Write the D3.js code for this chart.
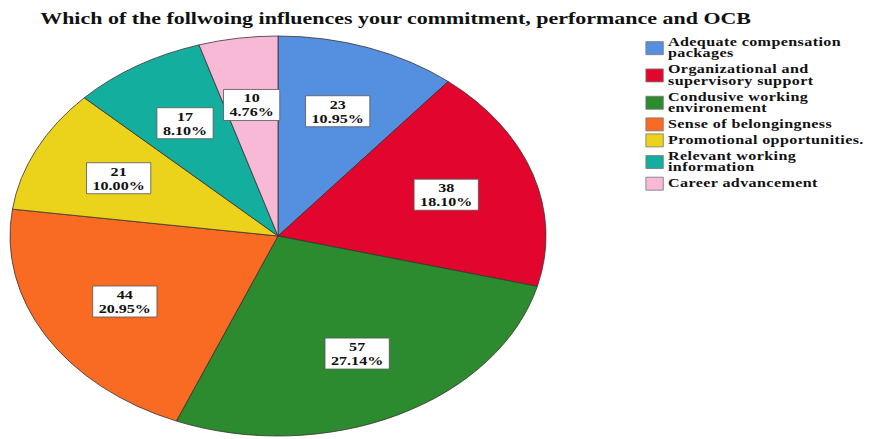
<!DOCTYPE html>
<html>
<head>
<meta charset="utf-8">
<script src="https://cdn.jsdelivr.net/npm/d3@7"></script>
<style>
  body { margin: 0; background: #fff; }
  svg { display: block; }
  text { font-family: "Liberation Serif", "Times New Roman", serif; font-weight: bold; fill: #111; }
</style>
</head>
<body>
<div id="chart"></div>
<script>
const title = "Which of the follwoing influences your commitment, performance and OCB";
const categories = [
  "Adequate compensation\npackages",
  "Organizational and\nsupervisory support",
  "Condusive working\nenvironement",
  "Sense of belongingness",
  "Promotional opportunities.",
  "Relevant working\ninformation",
  "Career advancement"
];
const counts = [23, 38, 57, 44, 21, 17, 10];
const percents = ["10.95%", "18.10%", "27.14%", "20.95%", "10.00%", "8.10%", "4.76%"];
const colors = ["#558fe0", "#e2062f", "#2b8b2e", "#f96a22", "#ebd31c", "#14ae9e", "#f7b9d6"];

const width = 871, height = 439;
const sx = 1.34;               // the whole figure is stretched horizontally
const radius = 200;
const cx = 278 / sx, cy = 236;

const svg = d3.select('#chart').append('svg')
    .attr('width', width).attr('height', height);

const g = svg.append('g').attr('transform', `scale(${sx},1)`);

// titre
g.append('text')
    .attr('x', 30).attr('y', 24)
    .style('font-size', '16.4px')
    .text(title);

// camembert
const pie = d3.pie().sort(null).value(d => d);
const arc = d3.arc().innerRadius(0).outerRadius(radius);
const arcs = pie(counts);

const pieG = g.append('g').attr('transform', `translate(${cx},${cy})`);
pieG.selectAll('path.slice')
    .data(arcs)
    .join('path')
    .attr('class', 'slice')
    .attr('d', arc)
    .attr('fill', (d, i) => colors[i])
    .attr('stroke', '#3a3030')
    .attr('stroke-width', 0.8)
    .attr('vector-effect', 'non-scaling-stroke');

// étiquettes
const labelArc = d3.arc().innerRadius(radius * 0.66).outerRadius(radius * 0.66);
const labels = pieG.selectAll('g.label')
    .data(arcs)
    .join('g')
    .attr('class', 'label')
    .attr('transform', d => `translate(${labelArc.centroid(d)})`);

labels.each(function(d, i) {
    const lg = d3.select(this);
    const rect = lg.append('rect');
    const t = lg.append('text')
        .attr('text-anchor', 'middle')
        .style('font-size', '12px');
    t.append('tspan').attr('x', 0).attr('y', -3).text(counts[i]);
    t.append('tspan').attr('x', 0).attr('y', 11).text(percents[i]);
    const bb = t.node().getBBox();
    rect.attr('x', bb.x - 4.5).attr('y', -16)
        .attr('width', bb.width + 9).attr('height', 31)
        .attr('fill', '#fff')
        .attr('stroke', '#555')
        .attr('stroke-width', 0.8)
        .attr('vector-effect', 'non-scaling-stroke');
});

// légende
const legend = g.append('g').attr('class', 'legend');
const lineStep = 11.3, entryStep = 16;
let yCursor = 46;
categories.forEach((c, i) => {
    const lines = c.split('\n');
    const first = yCursor, last = yCursor + (lines.length - 1) * lineStep;
    const mid = (first + last) / 2 - 3.5;
    legend.append('rect')
        .attr('x', 482).attr('y', mid - 6.5)
        .attr('width', 13).attr('height', 13)
        .attr('fill', colors[i])
        .attr('stroke', '#777')
        .attr('stroke-width', 0.8)
        .attr('vector-effect', 'non-scaling-stroke');
    const t = legend.append('text')
        .style('font-size', '12px')
        .style('letter-spacing', '0.3px');
    lines.forEach((l, j) => {
        t.append('tspan').attr('x', 498.5).attr('y', first + j * lineStep).text(l);
    });
    yCursor = last + entryStep;
});
</script>
</body>
</html>
